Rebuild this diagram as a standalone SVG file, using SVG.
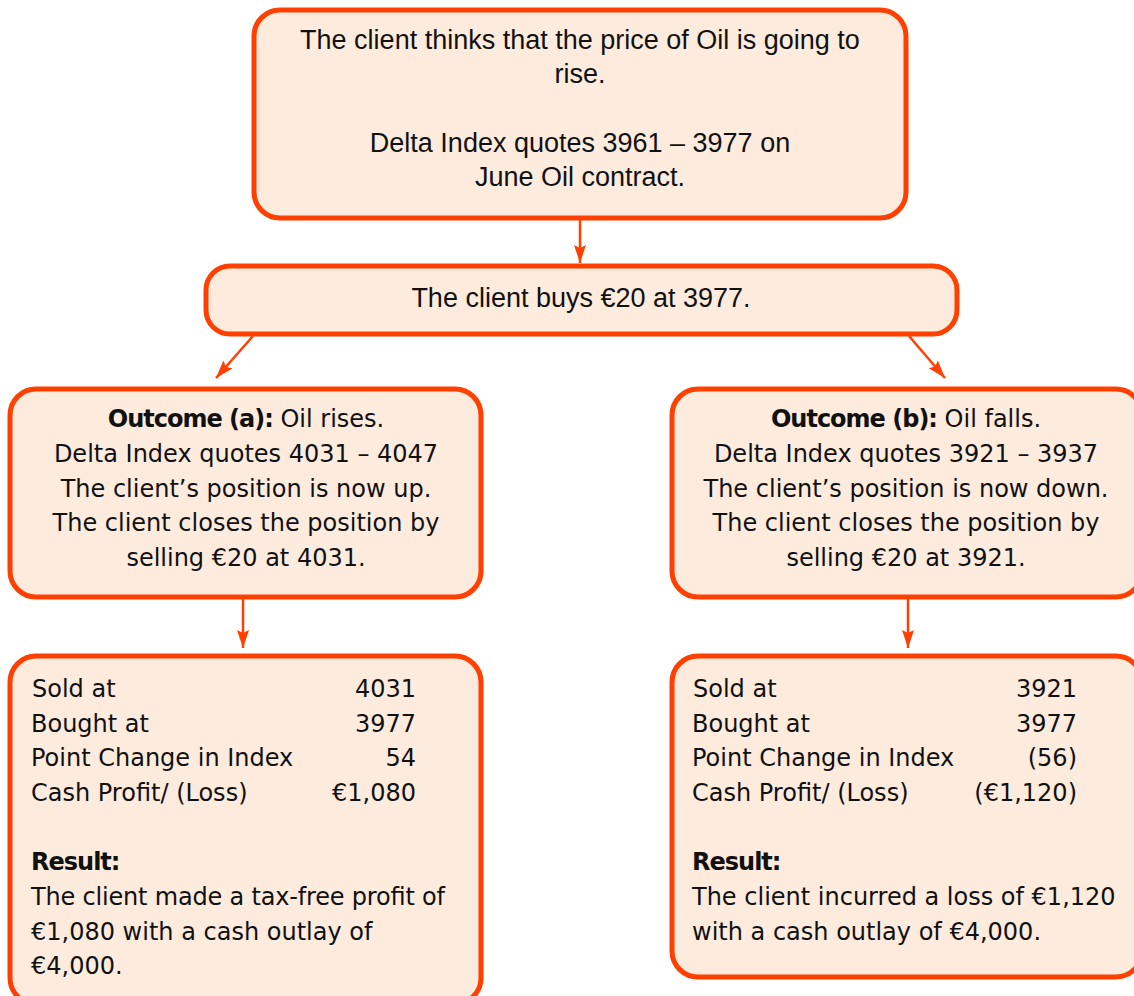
<svg xmlns="http://www.w3.org/2000/svg" width="1134" height="996" viewBox="0 0 1134 996">
<style>
.box{fill:#FDEBDE;stroke:#FF4000;stroke-width:5}
.conn{stroke:#FF4000;stroke-width:2.5;fill:none}
.n{font-family:"Liberation Sans",Arial,sans-serif;font-size:27px;fill:#111;text-anchor:middle}
.t{font-family:"DejaVu Sans",Verdana,sans-serif;font-size:24px;fill:#111}
.c{text-anchor:middle}
.r{text-anchor:end}
.b{font-weight:bold;letter-spacing:-1px}
</style>
<defs>
<marker id="ah" markerUnits="userSpaceOnUse" markerWidth="20" markerHeight="14" refX="18" refY="6" orient="auto">
<path d="M0,0 L18,6 L0,12 L3,6 z" fill="#FF4000"/>
</marker>
</defs>
<rect width="1134" height="996" fill="#fff"/>
<g id="connectors">
<line class="conn" x1="580" y1="218" x2="580" y2="263" marker-end="url(#ah)"/>
<line class="conn" x1="253" y1="336" x2="216" y2="378" marker-end="url(#ah)"/>
<line class="conn" x1="909" y1="336" x2="945" y2="378" marker-end="url(#ah)"/>
<line class="conn" x1="243" y1="598" x2="243" y2="648" marker-end="url(#ah)"/>
<line class="conn" x1="908" y1="598" x2="908" y2="648" marker-end="url(#ah)"/>
</g>
<g id="node-top">
<rect class="box" x="254" y="10" width="652" height="208" rx="26"/>
<text class="n" x="580" y="49">The client thinks that the price of Oil is going to</text>
<text class="n" x="580" y="83">rise.</text>
<text class="n" x="580" y="152">Delta Index quotes 3961 – 3977 on</text>
<text class="n" x="580" y="186">June Oil contract.</text>
</g>
<g id="node-buy">
<rect class="box" x="206" y="266" width="751" height="68" rx="24"/>
<text class="n" x="581" y="307">The client buys €20 at 3977.</text>
</g>
<g id="node-outcome-a">
<rect class="box" x="10" y="389" width="471" height="208" rx="26"/>
<text class="t c" x="246" y="427"><tspan class="b">Outcome (a):</tspan> Oil rises.</text>
<text class="t c" x="246" y="462">Delta Index quotes 4031 – 4047</text>
<text class="t c" x="246" y="497">The client’s position is now up.</text>
<text class="t c" x="246" y="531">The client closes the position by</text>
<text class="t c" x="246" y="566">selling €20 at 4031.</text>
</g>
<g id="node-outcome-b">
<rect class="box" x="672" y="389" width="470" height="208" rx="26"/>
<text class="t c" x="906" y="427"><tspan class="b">Outcome (b):</tspan> Oil falls.</text>
<text class="t c" x="906" y="462">Delta Index quotes 3921 – 3937</text>
<text class="t c" x="906" y="497">The client’s position is now down.</text>
<text class="t c" x="906" y="531">The client closes the position by</text>
<text class="t c" x="906" y="566">selling €20 at 3921.</text>
</g>
<g id="node-result-a">
<rect class="box" x="10" y="656" width="471" height="348" rx="26"/>
<text class="t" x="32" y="697">Sold at</text>
<text class="t r" x="416" y="697">4031</text>
<text class="t" x="31" y="732">Bought at</text>
<text class="t r" x="416" y="732">3977</text>
<text class="t" x="31" y="766">Point Change in Index</text>
<text class="t r" x="416" y="766">54</text>
<text class="t" x="31" y="801">Cash Profit/ (Loss)</text>
<text class="t r" x="416" y="801">€1,080</text>
<text class="t b" x="31" y="870">Result:</text>
<text class="t" x="31" y="905" textLength="414" lengthAdjust="spacing">The client made a tax-free profit of</text>
<text class="t" x="31" y="940">€1,080 with a cash outlay of</text>
<text class="t" x="31" y="974">€4,000.</text>
</g>
<g id="node-result-b">
<rect class="box" x="672" y="656" width="470" height="321" rx="26"/>
<text class="t" x="693" y="697">Sold at</text>
<text class="t r" x="1077" y="697">3921</text>
<text class="t" x="692" y="732">Bought at</text>
<text class="t r" x="1077" y="732">3977</text>
<text class="t" x="692" y="766">Point Change in Index</text>
<text class="t r" x="1077" y="766">(56)</text>
<text class="t" x="692" y="801">Cash Profit/ (Loss)</text>
<text class="t r" x="1077" y="801">(€1,120)</text>
<text class="t b" x="692" y="870">Result:</text>
<text class="t" x="692" y="905">The client incurred a loss of €1,120</text>
<text class="t" x="692" y="940">with a cash outlay of €4,000.</text>
</g>
</svg>
